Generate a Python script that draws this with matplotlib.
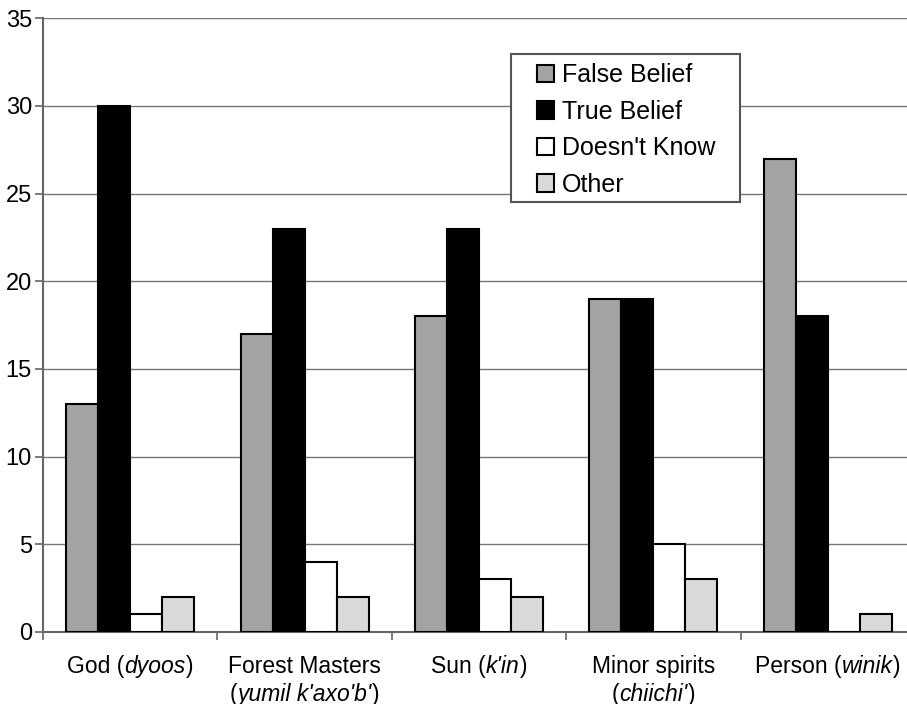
import matplotlib
matplotlib.use("Agg")
import matplotlib.pyplot as plt
import numpy as np
from matplotlib.offsetbox import TextArea, HPacker, VPacker, AnnotationBbox
from matplotlib.patches import Rectangle

plt.rcParams['font.family'] = ['Liberation Sans', 'DejaVu Sans']

# label parts: list of lines, each a list of (text, italic)
categories = [
    [[("God (", False), ("dyoos", True), (")", False)]],
    [[("Forest Masters", False)], [("(", False), ("yumil k'axo'b'", True), (")", False)]],
    [[("Sun (", False), ("k'in", True), (")", False)]],
    [[("Minor spirits", False)], [("(", False), ("chiichi'", True), (")", False)]],
    [[("Person (", False), ("winik", True), (")", False)]],
]
series_names = ["False Belief", "True Belief", "Doesn't Know", "Other"]
false_belief = [13, 17, 18, 19, 27]
true_belief = [30, 23, 23, 19, 18]
doesnt_know = [1, 4, 3, 5, 0]
other = [2, 2, 2, 3, 1]
yticks = [0, 5, 10, 15, 20, 25, 30, 35]

series = [false_belief, true_belief, doesnt_know, other]
colors = ["#a3a3a3", "#000000", "#ffffff", "#d9d9d9"]

fig = plt.figure(figsize=(9.07, 7.04), dpi=100)
ax = fig.add_axes([43/907, 72/704, 872/907, 613.7/704])

n = len(categories)
x = np.arange(n)
bw = 32/174.4
for i, (vals, col) in enumerate(zip(series, colors)):
    offs = (i - 1.5) * bw
    ax.bar(x + offs, vals, width=bw, color=col, edgecolor="black", linewidth=1.5,
           label=series_names[i], zorder=3)

ax.set_xlim(-0.5, n - 0.5)
ax.set_ylim(0, 35)
ax.set_yticks(yticks)
ax.set_yticklabels([str(t) for t in yticks], fontsize=17)
ax.yaxis.grid(True, color="#777777", linewidth=1.0, zorder=0)
ax.set_axisbelow(True)
ax.set_xticks(np.arange(n + 1) - 0.5)
ax.set_xticklabels([])
ax.tick_params(axis='y', length=6, width=1.2, color="#666666", pad=2)
ax.tick_params(axis='x', length=6, width=1.2, color="#666666")
for s in ['top', 'right']:
    ax.spines[s].set_visible(False)
for s in ['left', 'bottom']:
    ax.spines[s].set_color("#666666")
    ax.spines[s].set_linewidth(1.5)

for i, lines in enumerate(categories):
    rows = []
    for line in lines:
        parts = [TextArea(t, textprops=dict(fontsize=16.5, style='italic' if it else 'normal',
                                            color='black'))
                 for t, it in line]
        rows.append(HPacker(children=parts, align="baseline", pad=0, sep=0))
    box = VPacker(children=rows, align="center", pad=0, sep=3.5)
    ab = AnnotationBbox(box, (i, 0), xycoords=('data', 'axes fraction'),
                        xybox=(0, -16.5), boxcoords="offset points",
                        box_alignment=(0.5, 1), frameon=False, annotation_clip=False)
    ax.add_artist(ab)

# legend frame drawn separately to match the reference padding
ax.add_patch(Rectangle((0.5367, 0.7007), 0.799 - 0.5367, 0.9418 - 0.7007,
                       transform=ax.transAxes, facecolor="white", edgecolor="#555555",
                       linewidth=1.5, zorder=4, clip_on=False))
leg = ax.legend(loc='upper left', bbox_to_anchor=(0.5665, 0.927), fontsize=18,
                frameon=False, handlelength=0.7, handleheight=0.7, handletextpad=0.3,
                labelspacing=0.5, borderpad=0, borderaxespad=0)
leg.set_zorder(5)

fig.savefig("out.png", dpi=100)
